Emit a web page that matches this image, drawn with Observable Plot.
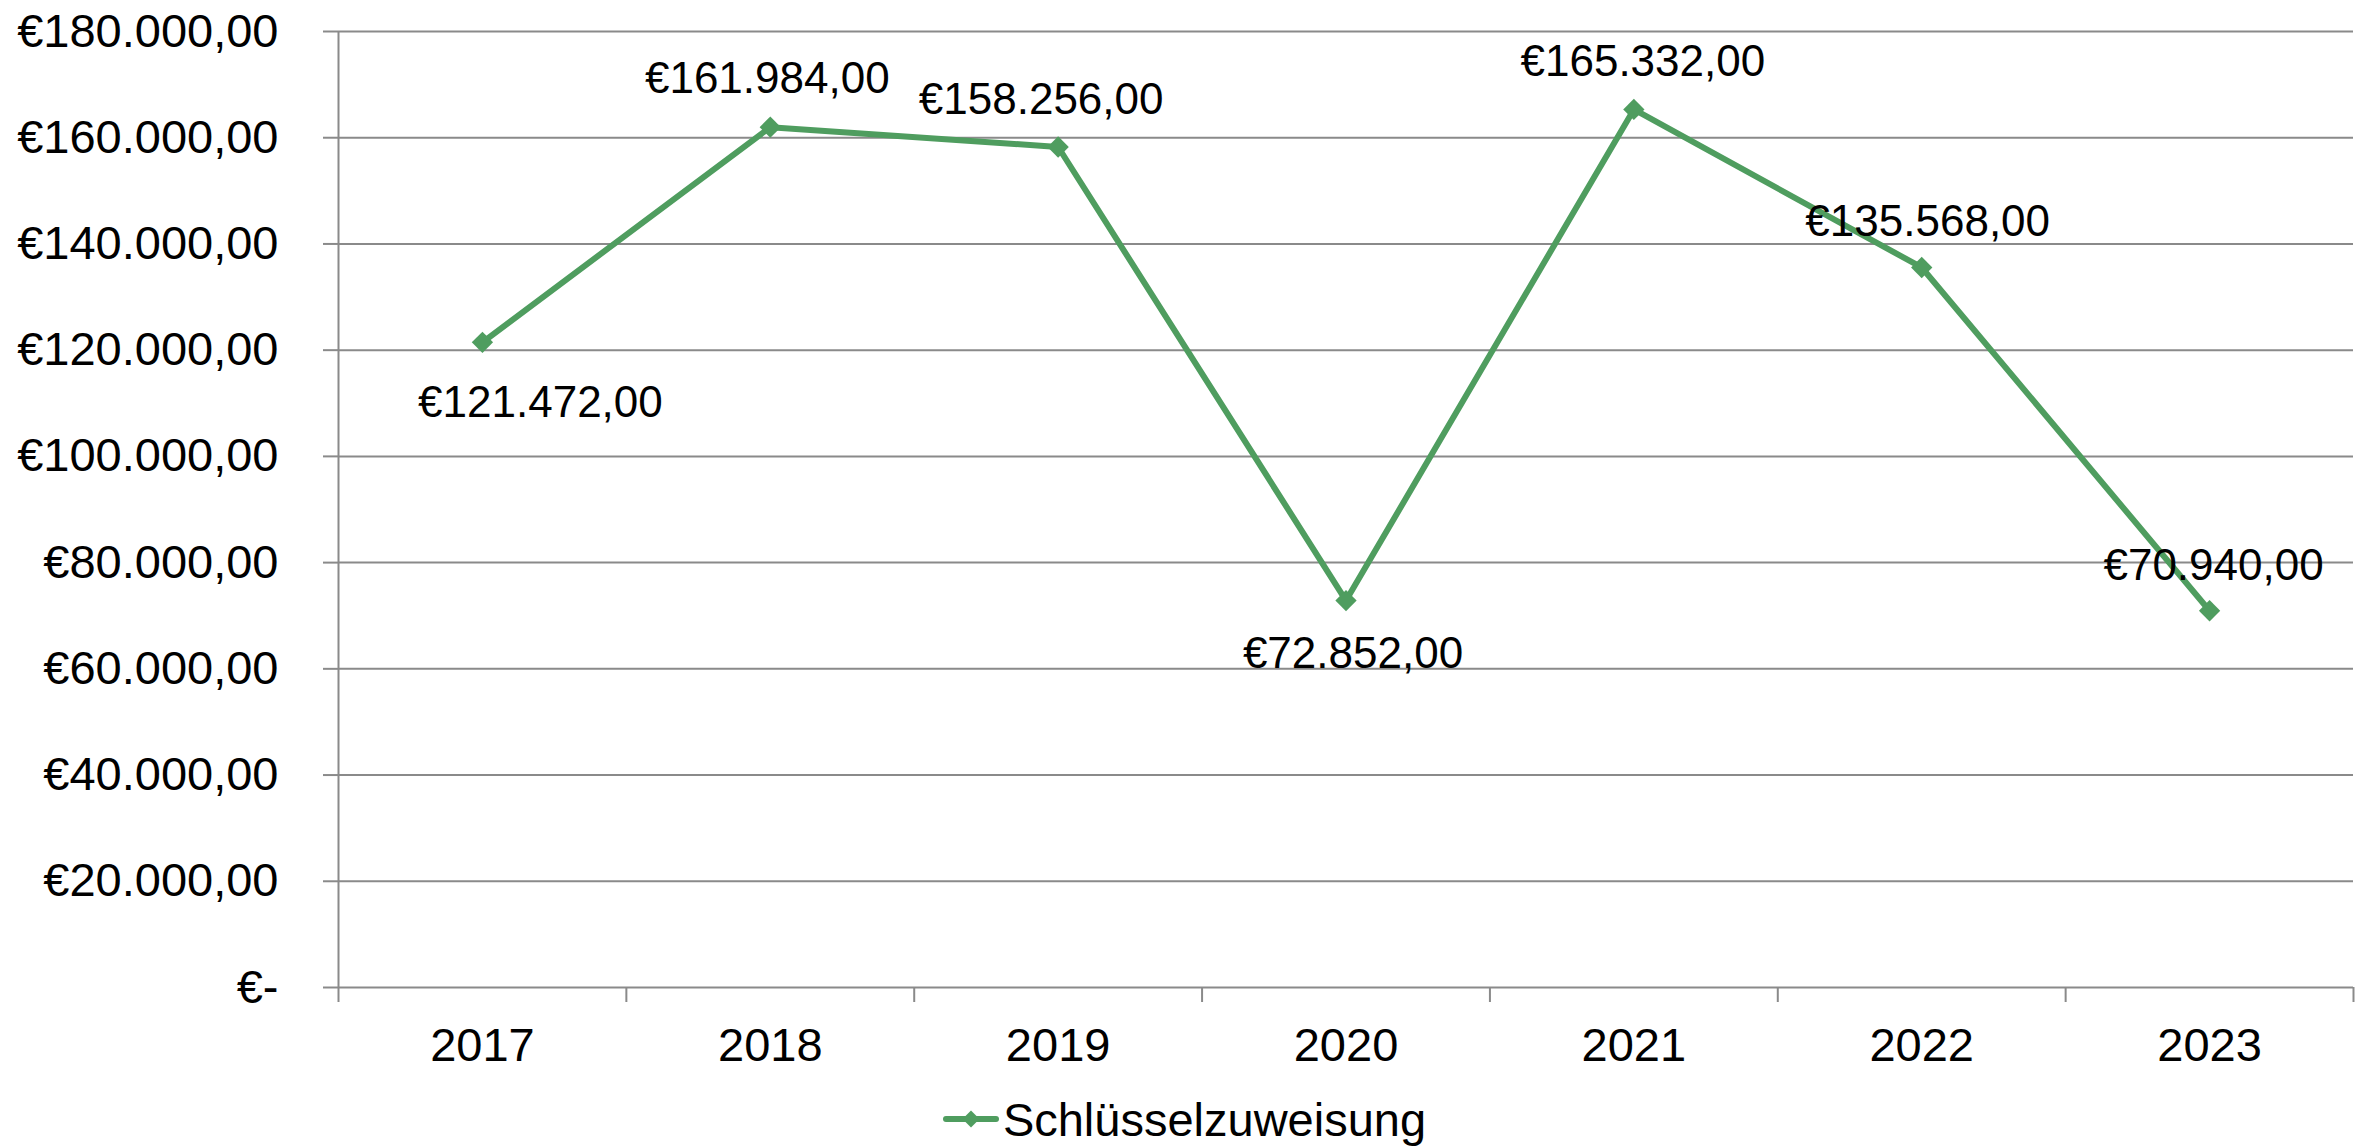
<!DOCTYPE html>
<html>
<head>
<meta charset="utf-8">
<script src="https://cdn.jsdelivr.net/npm/d3@7"></script>
<script src="https://cdn.jsdelivr.net/npm/@observablehq/plot@0.6"></script>
<style>
  html, body { margin: 0; padding: 0; background: #fff; }
  body { width: 2369px; height: 1146px; overflow: hidden; font-family: "Liberation Sans", Arial, sans-serif; }
  #legend { display: flex; justify-content: center; align-items: center; height: 78px; font-size: 47px; color: #000; }
  #legend svg { margin-right: 4px; }
</style>
</head>
<body>
<div id="chart"></div>
<div id="legend"></div>
<script>
const years = [2017, 2018, 2019, 2020, 2021, 2022, 2023];
const values = [121472, 161984, 158256, 72852, 165332, 135568, 70940];
const seriesName = "Schlüsselzuweisung";
const yTicks = [0, 20000, 40000, 60000, 80000, 100000, 120000, 140000, 160000, 180000];

// label placement (style only)
const labelOffsets = [
  {dx: 58, dy: 61}, {dx: -3, dy: -48}, {dx: -17, dy: -47}, {dx: 7, dy: 53},
  {dx: 9, dy: -47}, {dx: 6, dy: -46}, {dx: 4, dy: -45}
];

const data = years.map((y, i) => ({year: y, value: values[i]}));
const boundaries = [...years.map(y => y - 0.5), years[years.length - 1] + 0.5];

const green = "#4f9d5f";
const gridColor = "#8a8a8a";

const fmt = new Intl.NumberFormat("de-DE", {minimumFractionDigits: 2, maximumFractionDigits: 2});
const euro = v => v === 0 ? "€-" : "€" + fmt.format(v);

const labelMarks = data.map((d, i) => Plot.text([d], {
  x: "year", y: "value", text: d => euro(d.value),
  dx: labelOffsets[i].dx, dy: labelOffsets[i].dy,
  fontSize: 44, fill: "#000", textAnchor: "middle", lineAnchor: "middle"
}));

const chart = Plot.plot({
  width: 2369,
  height: 1080,
  marginLeft: 338,
  marginRight: 16,
  marginTop: 31,
  marginBottom: 93,
  style: {fontFamily: "'Liberation Sans', Arial, sans-serif", background: "#fff", color: "#000"},
  x: {type: "linear", domain: [boundaries[0], boundaries[boundaries.length - 1]]},
  y: {domain: [0, 180000]},
  marks: [
    Plot.gridY(yTicks, {stroke: gridColor, strokeOpacity: 1, strokeWidth: 2}),
    Plot.axisY(yTicks, {tickSize: 15, tickPadding: 45, stroke: gridColor, strokeWidth: 2, tickFormat: euro, fontSize: 47, fill: "#000", label: null}),
    Plot.ruleX([boundaries[0]], {stroke: gridColor, strokeWidth: 2}),
    Plot.axisX(boundaries, {tickSize: 15, tickFormat: () => "", stroke: gridColor, strokeWidth: 2, label: null}),
    Plot.axisX(years, {tickSize: 0, tickPadding: 40, tickFormat: d => String(d), fontSize: 47, fill: "#000", label: null}),
    Plot.line(data, {x: "year", y: "value", stroke: green, strokeWidth: 6}),
    Plot.dot(data, {x: "year", y: "value", symbol: "square", r: 8.5, rotate: 45, fill: green, stroke: "none"}),
    ...labelMarks
  ]
});
document.getElementById("chart").appendChild(chart);

// legend
const lg = document.getElementById("legend");
const sw = d3.create("svg").attr("width", 56).attr("height", 30);
sw.append("line").attr("x1", 3).attr("x2", 53).attr("y1", 15).attr("y2", 15)
  .attr("stroke", green).attr("stroke-width", 6).attr("stroke-linecap", "round");
sw.append("rect").attr("x", -6).attr("y", -6).attr("width", 12).attr("height", 12)
  .attr("fill", green).attr("transform", "translate(28,15) rotate(45)");
lg.appendChild(sw.node());
const span = document.createElement("span");
span.textContent = seriesName;
lg.appendChild(span);
</script>
</body>
</html>
